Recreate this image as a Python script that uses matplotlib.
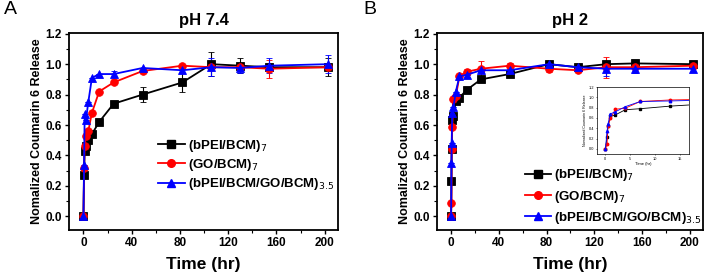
import matplotlib
matplotlib.use("Agg")
import matplotlib.pyplot as plt
from matplotlib.lines import Line2D
from matplotlib.ticker import MultipleLocator

plt.rcParams['font.family'] = ['Liberation Sans', 'DejaVu Sans']

# Panel A, pH 7.4
time_a = [0, 0.5, 1, 2, 4, 7, 13, 25, 49, 82, 106, 130, 154, 203]
bpei_a = [0, 0.27, 0.43, 0.46, 0.50, 0.54, 0.62, 0.74, 0.80, 0.88, 1.00, 0.99, 0.98, 0.98]
bpei_a_err = [0, 0, 0, 0, 0, 0, 0, 0, 0.05, 0.06, 0.08, 0.05, 0.02, 0.06]
go_a = [0, 0.32, 0.46, 0.53, 0.56, 0.68, 0.82, 0.88, 0.955, 0.99, 0.98, 0.98, 0.97, 0.98]
go_a_err = [0, 0, 0, 0, 0, 0, 0, 0, 0, 0, 0, 0, 0.06, 0.02]
mix_a = [0, 0.34, 0.67, 0.63, 0.75, 0.91, 0.935, 0.935, 0.975, 0.96, 0.98, 0.975, 0.99, 1.0]
mix_a_err = [0, 0, 0, 0, 0, 0, 0, 0.02, 0, 0.02, 0.06, 0.03, 0.05, 0.06]

# Panel B, pH 2
time_b = [0, 0.33, 0.5, 1, 2, 4, 7, 13, 25, 49, 82, 106, 130, 154, 203]
bpei_b = [0, 0.23, 0.44, 0.63, 0.66, 0.76, 0.78, 0.83, 0.90, 0.935, 1.0, 0.98, 1.0, 1.005, 1.0]
bpei_b_err = [0, 0, 0, 0, 0, 0, 0, 0, 0.02, 0.01, 0.01, 0.01, 0.02, 0.02, 0.02]
go_b = [0, 0.09, 0.44, 0.59, 0.77, 0.79, 0.92, 0.95, 0.97, 0.99, 0.97, 0.96, 0.98, 0.98, 0.99]
go_b_err = [0, 0, 0, 0, 0, 0, 0, 0.02, 0.05, 0.02, 0.02, 0.01, 0.07, 0.04, 0.01]
mix_b = [0, 0.35, 0.48, 0.68, 0.72, 0.82, 0.92, 0.93, 0.96, 0.96, 1.0, 0.98, 0.97, 0.97, 0.97]
mix_b_err = [0, 0, 0, 0, 0, 0, 0, 0, 0.01, 0.01, 0.01, 0.01, 0.05, 0.03, 0.02]

labels = ['(bPEI/BCM)$_{7}$', '(GO/BCM)$_{7}$', '(bPEI/BCM/GO/BCM)$_{3.5}$']
colors = ['black', '#ff0000', '#0000ff']
markers = ['s', 'o', '^']


def draw_series(ax, t, series, errs, ms=5.5, lw=1.3):
    for y, e, c, m in zip(series, errs, colors, markers):
        ax.errorbar(t, y, yerr=e, color=c, marker=m, markersize=ms,
                    linewidth=lw, capsize=2, elinewidth=0.8, markeredgewidth=0.6)


def legend_handles(ms=5.5, lw=1.3):
    return [Line2D([], [], color=c, marker=m, markersize=ms, linewidth=lw)
            for c, m in zip(colors, markers)]


def style_axes(ax, title):
    ax.set_xlim(-12, 211)
    ax.set_ylim(-0.09, 1.205)
    ax.xaxis.set_major_locator(MultipleLocator(40))
    ax.xaxis.set_minor_locator(MultipleLocator(20))
    ax.yaxis.set_major_locator(MultipleLocator(0.2))
    ax.yaxis.set_minor_locator(MultipleLocator(0.1))
    ax.yaxis.set_major_formatter(plt.FormatStrFormatter('%.1f'))
    ax.tick_params(which='major', direction='out', length=3, width=1, labelsize=8.5, pad=2)
    ax.tick_params(which='minor', direction='out', length=2, width=0.8)
    for lab in ax.get_xticklabels() + ax.get_yticklabels():
        lab.set_fontweight('bold')
    for s in ax.spines.values():
        s.set_linewidth(1.3)
    ax.set_title(title, fontsize=12, fontweight='bold', pad=6)
    ax.set_xlabel('Time (hr)', fontsize=12.5, fontweight='bold', labelpad=6)
    ax.set_ylabel('Nomalized Coumarin 6 Release', fontsize=9, fontweight='bold', labelpad=2)


fig = plt.figure(figsize=(7.09, 2.8), dpi=100)

ax_a = fig.add_axes([0.0973, 0.1786, 0.3794, 0.7036])
draw_series(ax_a, time_a, [bpei_a, go_a, mix_a], [bpei_a_err, go_a_err, mix_a_err])
style_axes(ax_a, 'pH 7.4')
ax_a.legend(legend_handles(), labels, loc='center right', bbox_to_anchor=(1.03, 0.33),
            frameon=False, handlelength=2.0, labelspacing=0.25, handletextpad=0.25,
            prop={'weight': 'bold', 'size': 9.5})

ax_b = fig.add_axes([0.616, 0.1786, 0.3756, 0.7036])
draw_series(ax_b, time_b, [bpei_b, go_b, mix_b], [bpei_b_err, go_b_err, mix_b_err])
style_axes(ax_b, 'pH 2')
ax_b.legend(legend_handles(), labels, loc='lower right', bbox_to_anchor=(1.04, -0.04),
            frameon=False, handlelength=2.0, labelspacing=0.4, handletextpad=0.2,
            prop={'weight': 'bold', 'size': 9.6})

fig.text(0.006, 0.995, 'A', fontsize=14, va='top', ha='left')
fig.text(0.513, 0.995, 'B', fontsize=14, va='top', ha='left')

# inset: early time points of panel B
ax_in = fig.add_axes([0.842, 0.45, 0.1298, 0.239])
n = 9
for y, c, m in zip([bpei_b, go_b, mix_b], colors, markers):
    ax_in.plot(time_b[:n], y[:n], color=c, marker=m, markersize=1.8, linewidth=0.6)
ax_in.set_xlim(-1.7, 16.8)
ax_in.set_ylim(-0.1, 1.2)
ax_in.xaxis.set_major_locator(MultipleLocator(5))
ax_in.yaxis.set_major_locator(MultipleLocator(0.2))
ax_in.yaxis.set_major_formatter(plt.FormatStrFormatter('%.1f'))
ax_in.tick_params(direction='out', length=1, width=0.4, labelsize=2.8, pad=1)
for s in ax_in.spines.values():
    s.set_linewidth(0.5)
ax_in.set_xlabel('Time (hr)', fontsize=3, labelpad=1)
ax_in.set_ylabel('Nomalized Coumarin 6 Release', fontsize=2.6, labelpad=1)

fig.savefig('out.png', dpi=100)
